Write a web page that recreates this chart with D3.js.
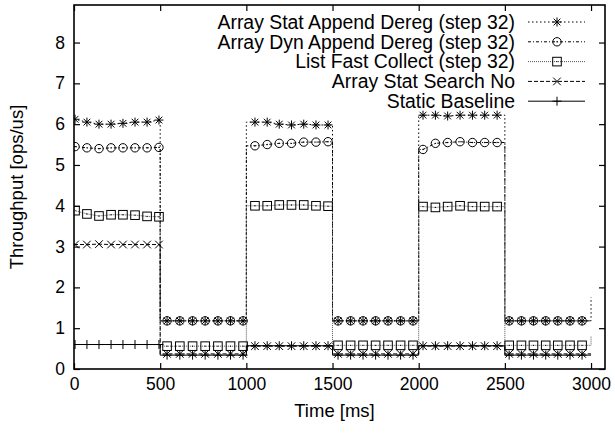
<!DOCTYPE html>
<html>
<head>
<meta charset="utf-8">
<script src="https://cdn.jsdelivr.net/npm/d3@7"></script>
<style>
  body { margin: 0; background: #fff; }
  text { font-family: "Liberation Sans", Arial, sans-serif; fill: #000; }
</style>
</head>
<body>
<div id="chart"></div>
<script>
// Segment boundaries (ms) - load switches every 500 ms
const segmentStarts = [0, 500, 1000, 1500, 2000, 2500];
const segmentEnd = 3000;

// Times (ms) of the plotted samples in each segment
const sampleTimes = [
    [6, 75, 145, 215, 284, 354, 424, 493],
    [540, 614, 688, 761, 835, 908, 981],
    [1050, 1121, 1191, 1262, 1333, 1404, 1474],
    [1532, 1605, 1677, 1750, 1822, 1895, 1967],
    [2025, 2097, 2168, 2240, 2312, 2383, 2455],
    [2525, 2596, 2666, 2737, 2807, 2878, 2948]
];

// Throughput values [ops/us], one list per segment
const statAppend = [
    [6.12, 6.05, 6.0, 6.0, 6.02, 6.05, 6.05, 6.1],
    [1.18, 1.18, 1.18, 1.18, 1.18, 1.18, 1.18],
    [6.05, 6.05, 6.0, 5.98, 6.0, 5.98, 5.98],
    [1.18, 1.18, 1.18, 1.18, 1.18, 1.18, 1.18],
    [6.22, 6.22, 6.2, 6.22, 6.22, 6.22, 6.22],
    [1.18, 1.18, 1.18, 1.18, 1.18, 1.18, 1.18]
];
const dynAppend = [
    [5.45, 5.42, 5.4, 5.42, 5.42, 5.42, 5.42, 5.43],
    [1.18, 1.18, 1.18, 1.18, 1.18, 1.18, 1.18],
    [5.47, 5.5, 5.53, 5.53, 5.56, 5.56, 5.57],
    [1.18, 1.18, 1.18, 1.18, 1.18, 1.18, 1.18],
    [5.38, 5.53, 5.55, 5.57, 5.55, 5.55, 5.55],
    [1.18, 1.18, 1.18, 1.18, 1.18, 1.18, 1.18]
];
const listFast = [
    [3.88, 3.8, 3.75, 3.78, 3.78, 3.77, 3.74, 3.73],
    [0.56, 0.56, 0.56, 0.56, 0.56, 0.56, 0.56],
    [4.0, 4.0, 4.02, 4.02, 4.02, 4.0, 3.99],
    [0.58, 0.58, 0.58, 0.58, 0.58, 0.58, 0.58],
    [3.98, 3.96, 3.98, 4.0, 3.98, 3.98, 3.98],
    [0.58, 0.58, 0.58, 0.58, 0.58, 0.58, 0.58]
];
const searchNo = [
    [3.05, 3.05, 3.06, 3.05, 3.05, 3.05, 3.05, 3.05],
    [0.37, 0.37, 0.37, 0.37, 0.37, 0.37, 0.37],
    [0.56, 0.56, 0.56, 0.56, 0.56, 0.56, 0.56],
    [0.37, 0.37, 0.37, 0.37, 0.37, 0.37, 0.37],
    [0.56, 0.56, 0.56, 0.56, 0.56, 0.56, 0.56],
    [0.37, 0.37, 0.37, 0.37, 0.37, 0.37, 0.37]
];
const baseline = [
    [0.6, 0.6, 0.6, 0.6, 0.6, 0.6, 0.6, 0.6],
    [0.34, 0.34, 0.34, 0.34, 0.34, 0.34, 0.34],
    [0.57, 0.57, 0.57, 0.57, 0.57, 0.57, 0.57],
    [0.34, 0.34, 0.34, 0.34, 0.34, 0.34, 0.34],
    [0.57, 0.57, 0.57, 0.57, 0.57, 0.57, 0.57],
    [0.34, 0.34, 0.34, 0.34, 0.34, 0.34, 0.34]
];
// Last value logged at 3000 ms, where the next phase begins
const tailValues = [1.76, 1.2, 0.8, 0.37, 0.34];

const seriesNames = [
    "Array Stat Append Dereg (step 32)",
    "Array Dyn Append Dereg (step 32)",
    "List Fast Collect (step 32)",
    "Array Stat Search No",
    "Static Baseline"
];
const xTicks = [0, 500, 1000, 1500, 2000, 2500, 3000];
const yTicks = [0, 1, 2, 3, 4, 5, 6, 7, 8];

// Line / marker styles (gnuplot-like)
const styles = [
    { dash: "1.5,2.5", color: "#000", marker: "asterisk" },
    { dash: "3,2,1,2", color: "#000", marker: "circle" },
    { dash: "1,1", color: "#555", marker: "square" },
    { dash: "4,2", color: "#000", marker: "cross" },
    { dash: null, color: "#000", marker: "plus" }
];

const svgWidth = 615;
const svgHeight = 433;
const plot = { left: 74, right: 605, top: 5, bottom: 369 };

const svg = d3.select("#chart").append("svg")
    .attr("width", svgWidth)
    .attr("height", svgHeight);

const x = d3.scaleLinear().domain([0, 3081]).range([plot.left, plot.right]);
const y = d3.scaleLinear().domain([0, 8.92]).range([plot.bottom, plot.top]);

// Build series: markers at samples, line held to segment bounds
const allValues = [statAppend, dynAppend, listFast, searchNo, baseline];
const series = allValues.map((segs, si) => {
    const points = [];
    const line = [];
    segs.forEach((vals, k) => {
        const s = segmentStarts[k];
        const e = k + 1 < segmentStarts.length ? segmentStarts[k + 1] : segmentEnd;
        line.push([s, vals[0]]);
        vals.forEach((v, i) => {
            points.push([sampleTimes[k][i], v]);
            line.push([sampleTimes[k][i], v]);
        });
        line.push([e, vals[vals.length - 1]]);
    });
    line.push([segmentEnd, tailValues[si]]);
    return { name: seriesNames[si], style: styles[si], points, line };
});

// clip
svg.append("defs").append("clipPath").attr("id", "clip")
    .append("rect")
    .attr("x", plot.left).attr("y", plot.top)
    .attr("width", plot.right - plot.left)
    .attr("height", plot.bottom - plot.top);

// Axes: ticks drawn inward on all four sides
const tickFont = "17.5px";
const fmt = d3.format("d");
const bottomAxis = svg.append("g")
    .attr("transform", `translate(0, ${plot.bottom})`)
    .call(d3.axisBottom(x).tickValues(xTicks).tickFormat(fmt).tickSize(-6).tickPadding(9).tickSizeOuter(0));
const topAxis = svg.append("g")
    .attr("transform", `translate(0, ${plot.top})`)
    .call(d3.axisTop(x).tickValues(xTicks).tickSize(-6).tickFormat("").tickSizeOuter(0));
const leftAxis = svg.append("g")
    .attr("transform", `translate(${plot.left}, 0)`)
    .call(d3.axisLeft(y).tickValues(yTicks).tickFormat(fmt).tickSize(-6).tickPadding(9).tickSizeOuter(0));
const rightAxis = svg.append("g")
    .attr("transform", `translate(${plot.right}, 0)`)
    .call(d3.axisRight(y).tickValues(yTicks).tickSize(-6).tickFormat("").tickSizeOuter(0));

[bottomAxis, topAxis, leftAxis, rightAxis].forEach(a => {
    a.select(".domain").remove();
    a.selectAll(".tick line").attr("stroke", "#000").attr("stroke-width", 1.2);
    a.selectAll("text").style("font-size", tickFont).style("font-family", "Liberation Sans, Arial, sans-serif").attr("fill", "#000");
});

// Frame
svg.append("rect")
    .attr("x", plot.left).attr("y", plot.top)
    .attr("width", plot.right - plot.left)
    .attr("height", plot.bottom - plot.top)
    .attr("fill", "none")
    .attr("stroke", "#000")
    .attr("stroke-width", 1.6);

// Axis titles
svg.append("text")
    .attr("x", x(1500) + 2)
    .attr("y", 417)
    .attr("text-anchor", "middle")
    .style("font-size", "18.5px")
    .text("Time [ms]");

svg.append("text")
    .attr("transform", `translate(23, ${(plot.top + plot.bottom) / 2}) rotate(-90)`)
    .attr("text-anchor", "middle")
    .style("font-size", "18.5px")
    .text("Throughput [ops/us]");

// Marker drawing
function drawMarker(g, type, cx, cy) {
    const m = g.append("g").attr("transform", `translate(${cx}, ${cy})`)
        .attr("fill", "none").attr("stroke", "#000").attr("stroke-width", 1);
    const r = 4.5;
    if (type === "asterisk") {
        m.append("path").attr("d", `M${-r},0H${r}M0,${-r}V${r}M${-r*0.75},${-r*0.75}L${r*0.75},${r*0.75}M${-r*0.75},${r*0.75}L${r*0.75},${-r*0.75}`);
    } else if (type === "circle") {
        m.append("circle").attr("r", 4.2);
        m.append("circle").attr("r", 0.7).attr("fill", "#000").attr("stroke", "none");
    } else if (type === "square") {
        m.append("rect").attr("x", -4.3).attr("y", -4.3).attr("width", 8.6).attr("height", 8.6);
        m.append("circle").attr("r", 0.7).attr("fill", "#000").attr("stroke", "none");
    } else if (type === "cross") {
        m.append("path").attr("d", `M${-r*0.85},${-r*0.85}L${r*0.85},${r*0.85}M${-r*0.85},${r*0.85}L${r*0.85},${-r*0.85}`);
    } else if (type === "plus") {
        m.append("path").attr("d", `M${-r},0H${r}M0,${-r}V${r}`);
    }
}

const lineGen = d3.line().x(d => x(d[0])).y(d => y(d[1]));
const dataGroup = svg.append("g").attr("clip-path", "url(#clip)");

series.forEach(s => {
    dataGroup.append("path")
        .datum(s.line)
        .attr("d", lineGen)
        .attr("fill", "none")
        .attr("stroke", s.style.color)
        .attr("stroke-width", 1)
        .attr("stroke-dasharray", s.style.dash);
    s.points.forEach(p => drawMarker(dataGroup, s.style.marker, x(p[0]), y(p[1])));
});

// Legend
const legend = svg.append("g");
const legendTop = 22;
const legendStep = 19.8;
series.forEach((s, i) => {
    const ly = legendTop + i * legendStep;
    legend.append("text")
        .attr("x", 515)
        .attr("y", ly)
        .attr("dy", "0.35em")
        .attr("text-anchor", "end")
        .style("font-size", "19.4px")
        .text(s.name);
    legend.append("line")
        .attr("x1", 528).attr("x2", 585)
        .attr("y1", ly).attr("y2", ly)
        .attr("stroke", s.style.color)
        .attr("stroke-width", 1)
        .attr("stroke-dasharray", s.style.dash);
    drawMarker(legend, s.style.marker, 557, ly);
});
</script>
</body>
</html>
